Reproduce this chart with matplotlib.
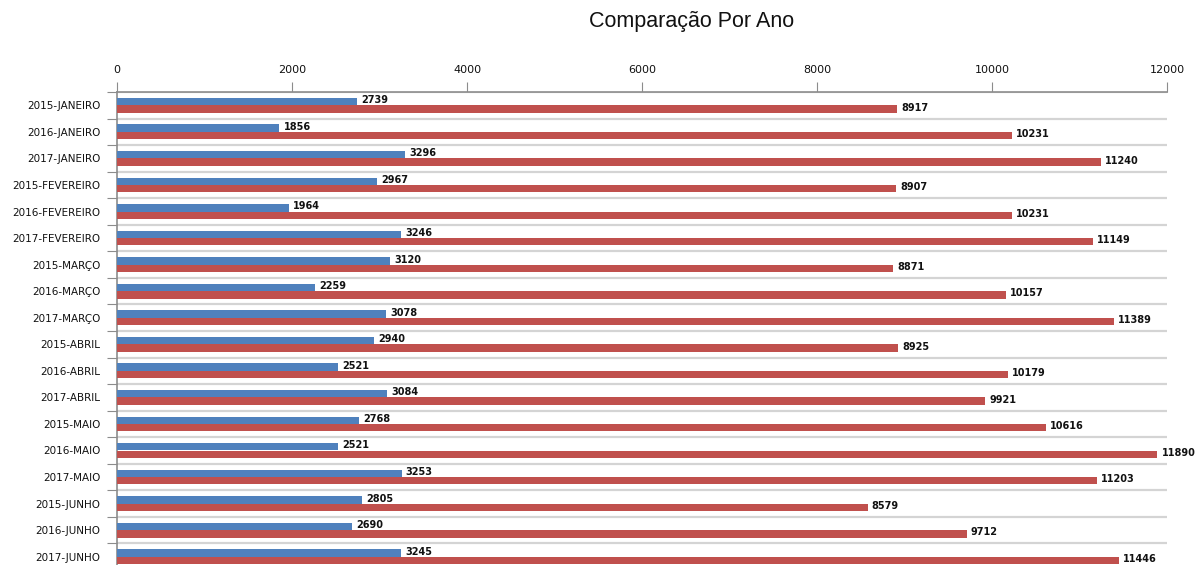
import numpy as np
import matplotlib
matplotlib.use("Agg")
import matplotlib.pyplot as plt

categorias = ["2015-JANEIRO", "2016-JANEIRO", "2017-JANEIRO",
              "2015-FEVEREIRO", "2016-FEVEREIRO", "2017-FEVEREIRO",
              "2015-MARÇO", "2016-MARÇO", "2017-MARÇO",
              "2015-ABRIL", "2016-ABRIL", "2017-ABRIL",
              "2015-MAIO", "2016-MAIO", "2017-MAIO",
              "2015-JUNHO", "2016-JUNHO", "2017-JUNHO"]
serie_azul = [2739, 1856, 3296, 2967, 1964, 3246, 3120, 2259, 3078,
              2940, 2521, 3084, 2768, 2521, 3253, 2805, 2690, 3245]
serie_vermelha = [8917, 10231, 11240, 8907, 10231, 11149, 8871, 10157, 11389,
                  8925, 10179, 9921, 10616, 11890, 11203, 8579, 9712, 11446]
xticks = [0, 2000, 4000, 6000, 8000, 10000, 12000]

AZUL = "#4F81BD"
VERMELHO = "#C0504D"
CINZA = "#8c8c8c"

fig = plt.figure(figsize=(11.95, 5.65), dpi=100)
ax = fig.add_axes([117/1195, -5/565, 1050/1195, (565-92+5)/565])

n = len(categorias)
y = np.arange(n)
h = 0.28
ax.barh(y - h/2, serie_azul, height=h, color=AZUL, zorder=3)
ax.barh(y + h/2, serie_vermelha, height=h, color=VERMELHO, zorder=3)

for yi, v in zip(y, serie_azul):
    ax.annotate(f"{v}", (v, yi - h/2), xytext=(3, 1), textcoords="offset points",
                ha="left", va="center", fontsize=7, fontweight="bold", color="#111111",
                family=["Liberation Sans Narrow", "DejaVu Sans"])
for yi, v in zip(y, serie_vermelha):
    ax.annotate(f"{v}", (v, yi + h/2), xytext=(3, 1), textcoords="offset points",
                ha="left", va="center", fontsize=7, fontweight="bold", color="#111111",
                family=["Liberation Sans Narrow", "DejaVu Sans"])

ax.set_xlim(0, 12000)
ax.set_ylim(n - 0.5, -0.5)
ax.xaxis.tick_top()
ax.set_xticks(xticks)
ax.set_xticklabels([str(t) for t in xticks])
ax.tick_params(axis="x", length=7, color=CINZA, labelsize=8, labelcolor="#111111", pad=5)

# categorias: ticks nas fronteiras, rótulos no centro
ax.set_yticks(np.arange(n + 1) - 0.5)
ax.set_yticklabels([])
ax.set_yticks(y, minor=True)
ax.set_yticklabels(categorias, minor=True)
ax.tick_params(axis="y", which="major", length=7, color=CINZA)
ax.tick_params(axis="y", which="minor", length=0, labelsize=7.5, labelcolor="#111111", pad=12)
ax.grid(axis="y", which="major", color="#d4d4d4", linewidth=1.6, zorder=0)

for s in ["right", "bottom"]:
    ax.spines[s].set_visible(False)
for s in ["top", "left"]:
    ax.spines[s].set_color(CINZA)
    ax.spines[s].set_linewidth(1.2)

fig.text(692/1195, 1 - 22/565, "Comparação Por Ano", ha="center", va="center",
         fontsize=15.5, family=["Liberation Sans", "DejaVu Sans"], color="#111111")

fig.savefig("out.png", dpi=100)
